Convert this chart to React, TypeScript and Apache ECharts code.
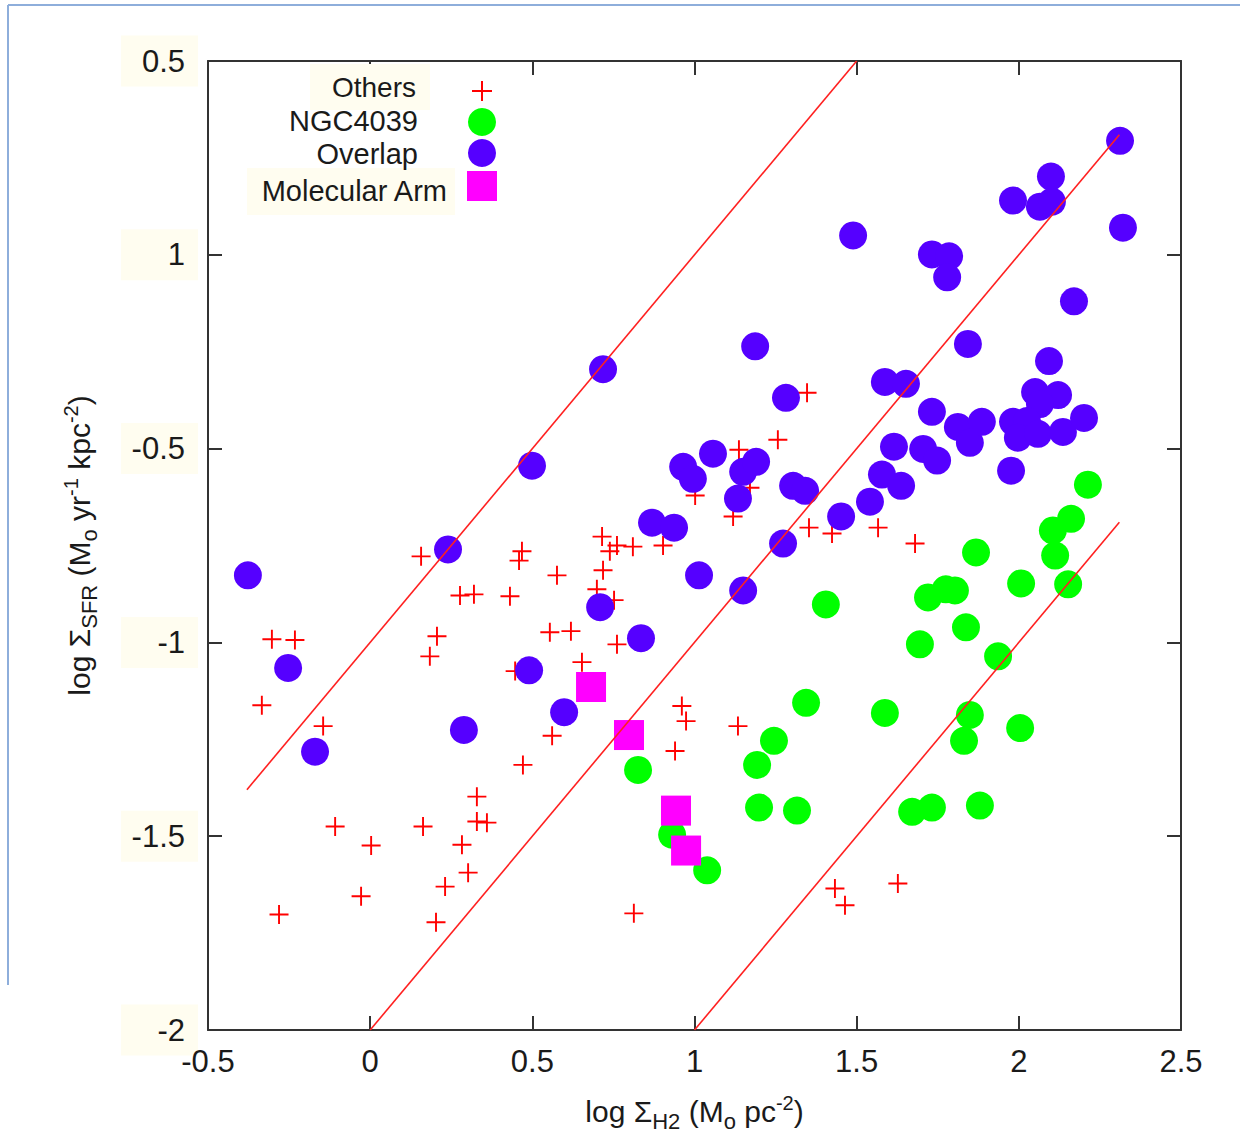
import React, { useEffect, useRef } from "react";
import * as echarts from "echarts";

// ---- data (log Σ_H2, log Σ_SFR) ----
const others: [number, number][] = [
  [0.157, -0.778], [0.468, -0.765], [0.459, -0.789], [0.715, -0.727], [0.761, -0.75],
  [0.739, -0.765], [0.81, -0.753], [0.903, -0.75], [0.576, -0.827], [0.718, -0.814],
  [0.277, -0.879], [0.32, -0.876], [0.431, -0.881], [0.699, -0.863], [0.752, -0.891],
  [-0.303, -0.992], [-0.232, -0.994], [0.206, -0.984], [0.184, -1.036], [0.554, -0.974],
  [0.619, -0.971], [0.761, -1.005], [0.653, -1.051], [0.447, -1.074], [-0.334, -1.162],
  [-0.145, -1.216], [0.561, -1.241], [0.471, -1.316], [0.961, -1.164], [0.974, -1.203],
  [1.134, -1.216], [0.94, -1.28], [0.329, -1.398], [0.329, -1.462], [0.36, -1.465],
  [-0.108, -1.475], [0.163, -1.475], [0.003, -1.524], [0.283, -1.522], [0.302, -1.594],
  [0.231, -1.63], [-0.028, -1.655], [-0.281, -1.702], [0.203, -1.722], [0.813, -1.699],
  [1.347, -0.356], [1.257, -0.477], [1.137, -0.503], [1.002, -0.621], [1.119, -0.675],
  [1.353, -0.704], [1.424, -0.719], [1.566, -0.704], [1.68, -0.745], [1.171, -0.601],
  [1.433, -1.635], [1.464, -1.678], [1.627, -1.622], [0.835, -0.992],
];

const ngc4039: [number, number][] = [
  [2.213, -0.593], [2.161, -0.681], [2.105, -0.711], [2.112, -0.776], [1.868, -0.768],
  [2.007, -0.848], [2.152, -0.85], [1.775, -0.863], [1.803, -0.866], [1.72, -0.884],
  [1.405, -0.902], [1.837, -0.961], [1.695, -1.005], [1.936, -1.036], [1.344, -1.156],
  [1.587, -1.182], [1.849, -1.187], [2.004, -1.221], [1.245, -1.254], [1.831, -1.254],
  [1.193, -1.316], [0.826, -1.329], [1.199, -1.426], [1.316, -1.434], [1.671, -1.437],
  [1.732, -1.426], [1.88, -1.421], [0.931, -1.496], [1.039, -1.588],
];

const overlap: [number, number][] = [
  [-0.377, -0.827], [-0.253, -1.066], [-0.17, -1.282], [0.24, -0.76], [0.289, -1.226],
  [0.499, -0.544], [0.718, -0.295], [0.49, -1.072], [0.598, -1.18], [0.709, -0.909],
  [0.835, -0.989], [0.869, -0.691], [0.937, -0.704], [0.965, -0.547], [0.995, -0.578],
  [1.057, -0.513], [1.014, -0.827], [1.15, -0.56], [1.19, -0.534], [1.134, -0.629],
  [1.15, -0.866], [1.187, -0.236], [1.282, -0.369], [1.304, -0.596], [1.341, -0.609],
  [1.273, -0.745], [1.452, -0.675], [1.489, 0.05], [1.541, -0.637], [1.578, -0.567],
  [1.587, -0.328], [1.652, -0.333], [1.615, -0.495], [1.637, -0.596], [1.732, -0.405],
  [1.705, -0.501], [1.748, -0.531], [1.732, 0.001], [1.785, -0.004], [1.779, -0.058],
  [1.843, -0.23], [1.812, -0.444], [1.849, -0.485], [1.886, -0.431], [1.976, -0.557],
  [1.982, 0.14], [2.099, 0.202], [2.065, 0.124], [2.102, 0.137], [2.093, -0.274],
  [2.17, -0.12], [2.05, -0.354], [2.121, -0.362], [2.065, -0.385], [1.982, -0.431],
  [2.025, -0.429], [1.997, -0.472], [2.059, -0.462], [2.136, -0.457], [2.201, -0.421],
  [2.312, 0.294], [2.321, 0.07],
];

const molecularArm: [number, number][] = [
  [0.681, -1.115], [0.798, -1.239], [0.943, -1.434], [0.974, -1.537],
];

// reference lines (endpoints)
const line1: [number, number][] = [[-0.38, -1.38], [1.5, 0.5]];
const line2: [number, number][] = [[0, -2], [2.31, 0.31]];
const line3: [number, number][] = [[1, -2], [2.31, -0.69]];

const yTickValues = [0.5, 0, -0.5, -1, -1.5, -2];
const yTickLabels = ["0.5", "1", "-0.5", "-1", "-1.5", "-2"];
const xTickValues = [-0.5, 0, 0.5, 1, 1.5, 2, 2.5];
const xTickLabels = ["-0.5", "0", "0.5", "1", "1.5", "2", "2.5"];

const legendNames = ["Others", "NGC4039", "Overlap", "Molecular Arm"];

const FONT = "Liberation Sans";
const TXT = "#1a1a1a";
const CROSS = "path://M9,0 h2 v9 h9 v2 h-9 v9 h-2 v-9 h-9 v-2 h9 z";

const rich = {
  n: { fontSize: 30, fontFamily: FONT, color: TXT },
  s: { fontSize: 22, fontFamily: FONT, color: TXT, padding: [20, 0, 0, 0] },
  p: { fontSize: 20, fontFamily: FONT, color: TXT, padding: [0, 0, 16, 0] },
};

function findLabel(values: number[], labels: string[], v: number) {
  for (let i = 0; i < values.length; i++) {
    if (Math.abs(values[i] - v) < 1e-6) return labels[i];
  }
  return "";
}

export default function App() {
  const ref = useRef<HTMLDivElement>(null);
  useEffect(() => {
    const chart = echarts.init(ref.current!, null, { renderer: "svg" });
    const axisLine = { show: true, onZero: false, lineStyle: { color: "#333", width: 2 } };
    const axisTick = { show: true, inside: true, length: 14, lineStyle: { color: "#333", width: 2 } };
    const option: any = {
      animation: false,
      backgroundColor: "#fff",
      grid: { left: 208, top: 61, width: 973, height: 972, containLabel: false },
      xAxis: [
        {
          type: "value", min: -0.5, max: 2.5, interval: 0.5, position: "bottom",
          axisLine, axisTick, splitLine: { show: false },
          axisLabel: {
            fontSize: 31, fontFamily: FONT, color: TXT, margin: 16,
            formatter: (v: number) => findLabel(xTickValues, xTickLabels, v),
          },
          name: "{n|log Σ}{s|H2}{n| (M}{s|o}{n| pc}{p|-2}{n|)}",
          nameLocation: "middle", nameGap: 60,
          nameTextStyle: { rich },
        },
        {
          type: "value", min: -0.5, max: 2.5, interval: 0.5, position: "top",
          axisLine, axisTick, splitLine: { show: false }, axisLabel: { show: false },
        },
      ],
      yAxis: [
        {
          type: "value", min: -2, max: 0.5, interval: 0.5, position: "left",
          axisLine, axisTick, splitLine: { show: false },
          axisLabel: {
            fontSize: 31, fontFamily: FONT, color: TXT, margin: 10,
            backgroundColor: "#fffdf0", padding: [10, 13, 10, 14], width: 50, align: "right",
            formatter: (v: number) => findLabel(yTickValues, yTickLabels, v),
          },
          name: "{n|log Σ}{s|SFR}{n| (M}{s|o}{n| yr}{p|-1}{n| kpc}{p|-2}{n|)}",
          nameLocation: "middle", nameGap: 108, nameRotate: 90,
          nameTextStyle: { rich },
        },
        {
          type: "value", min: -2, max: 0.5, interval: 0.5, position: "right",
          axisLine, axisTick, splitLine: { show: false }, axisLabel: { show: false },
        },
      ],
      series: [
        {
          name: legendNames[0], type: "scatter", data: others, symbol: CROSS, symbolSize: 19,
          itemStyle: { color: "#ff0000", opacity: 1 }, z: 2,
        },
        {
          name: legendNames[1], type: "scatter", data: ngc4039, symbol: "circle", symbolSize: 28,
          itemStyle: { color: "#00ff00", opacity: 1 }, z: 3,
        },
        {
          name: legendNames[2], type: "scatter", data: overlap, symbol: "circle", symbolSize: 28,
          itemStyle: { color: "#5500ff", opacity: 1 }, z: 3,
        },
        {
          name: legendNames[3], type: "scatter", data: molecularArm, symbol: "rect", symbolSize: 30,
          itemStyle: { color: "#ff00ff", opacity: 1 }, z: 4,
        },
        { type: "line", data: line1, symbol: "none", lineStyle: { color: "#ff2020", width: 1.6 }, z: 5 },
        { type: "line", data: line2, symbol: "none", lineStyle: { color: "#ff2020", width: 1.6 }, z: 5 },
        { type: "line", data: line3, symbol: "none", lineStyle: { color: "#ff2020", width: 1.6 }, z: 5 },
      ],
      graphic: [
        { type: "line", shape: { x1: 8, y1: 5, x2: 1240, y2: 5 }, style: { stroke: "#8eaedb", lineWidth: 2 } },
        { type: "line", shape: { x1: 8, y1: 5, x2: 8, y2: 985 }, style: { stroke: "#8eaedb", lineWidth: 2 } },
        // legend
        { type: "rect", shape: { x: 310, y: 64, width: 120, height: 46 }, style: { fill: "#fffdf0" }, z: 10 },
        { type: "rect", shape: { x: 247, y: 168, width: 208, height: 47 }, style: { fill: "#fffdf0" }, z: 10 },
        {
          type: "text", x: 416, y: 87, z: 11,
          style: { text: legendNames[0], fontSize: 28, fontFamily: FONT, fill: TXT, align: "right", verticalAlign: "middle" },
        },
        {
          type: "text", x: 418, y: 121, z: 11,
          style: { text: legendNames[1], fontSize: 29, fontFamily: FONT, fill: TXT, align: "right", verticalAlign: "middle" },
        },
        {
          type: "text", x: 418, y: 154, z: 11,
          style: { text: legendNames[2], fontSize: 29, fontFamily: FONT, fill: TXT, align: "right", verticalAlign: "middle" },
        },
        {
          type: "text", x: 447, y: 191, z: 11,
          style: { text: legendNames[3], fontSize: 29, fontFamily: FONT, fill: TXT, align: "right", verticalAlign: "middle" },
        },
        { type: "line", shape: { x1: 472, y1: 91, x2: 492, y2: 91 }, style: { stroke: "#ff0000", lineWidth: 2 }, z: 11 },
        { type: "line", shape: { x1: 482, y1: 81, x2: 482, y2: 101 }, style: { stroke: "#ff0000", lineWidth: 2 }, z: 11 },
        { type: "circle", shape: { cx: 482, cy: 122, r: 14 }, style: { fill: "#00ff00" }, z: 11 },
        { type: "circle", shape: { cx: 482, cy: 153, r: 14 }, style: { fill: "#5500ff" }, z: 11 },
        { type: "rect", shape: { x: 467, y: 171, width: 30, height: 30 }, style: { fill: "#ff00ff" }, z: 11 },
      ],
    };
    chart.setOption(option);
    return () => chart.dispose();
  }, []);
  return (
    <div
      ref={ref}
      style={{ position: "absolute", left: 0, top: 0, width: 1240, height: 1137, background: "#fff" }}
    />
  );
}
